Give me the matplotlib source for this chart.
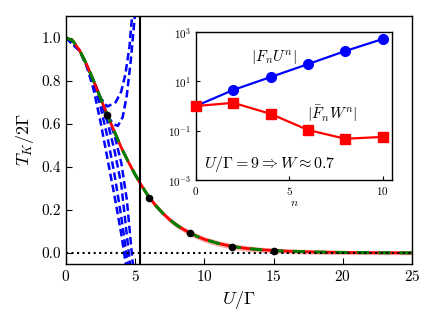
import numpy as np
import matplotlib
matplotlib.use("Agg")
import matplotlib.pyplot as plt

plt.rcParams['mathtext.fontset'] = 'cm'
plt.rcParams['font.family'] = 'serif'
plt.rcParams['font.serif'] = ['cmr10', 'DejaVu Serif']
plt.rcParams['axes.formatter.use_mathtext'] = True

# main curve T_K/2Gamma vs U/Gamma
U_main = [0, 0.5, 1, 1.5, 2, 2.5, 3, 3.5, 4, 4.5, 5, 5.5, 6, 6.5, 7, 7.5, 8, 8.5,
          9, 9.5, 10, 11, 12, 13, 14, 15, 16, 17, 18, 20, 22, 25]
T_main = [1.0, 0.985, 0.94, 0.875, 0.80, 0.72, 0.64, 0.565, 0.49, 0.425, 0.365,
          0.31, 0.26, 0.22, 0.185, 0.155, 0.13, 0.11, 0.092, 0.077, 0.064, 0.045,
          0.031, 0.022, 0.016, 0.012, 0.009, 0.007, 0.005, 0.003, 0.002, 0.001]
T_err = [0.0, 0.0, 0.001, 0.002, 0.003, 0.004, 0.005, 0.006, 0.007, 0.008, 0.009,
         0.010, 0.011, 0.012, 0.012, 0.013, 0.013, 0.013, 0.013, 0.013, 0.013, 0.013,
         0.013, 0.013, 0.012, 0.012, 0.011, 0.011, 0.010, 0.010, 0.009, 0.009]

# dots
U_dots = [3, 6, 9, 12, 15]
T_dots = [0.64, 0.258, 0.092, 0.030, 0.012]

# truncated series (blue dashed)
series_U = [
    [0, 1, 1.5, 2, 2.5, 3, 3.5, 4, 4.35],
    [0, 1, 1.5, 2, 2.5, 3, 3.5, 4, 4.5],
    [0, 1, 2, 2.5, 3, 3.5, 4, 4.65],
    [0, 1, 2, 2.5, 3, 3.5, 4, 4.4, 4.85],
    [0, 1, 2, 2.5, 3, 3.3, 3.6, 4, 4.3, 4.6, 4.85],
    [0, 1, 2, 2.5, 3, 3.4, 3.75, 4.1, 4.4, 4.7, 5.05],
]
series_T = [
    [1.0, 0.94, 0.87, 0.76, 0.61, 0.44, 0.27, 0.09, -0.06],
    [1.0, 0.94, 0.875, 0.79, 0.68, 0.54, 0.37, 0.17, -0.06],
    [1.0, 0.94, 0.80, 0.71, 0.61, 0.48, 0.32, -0.06],
    [1.0, 0.94, 0.80, 0.72, 0.64, 0.55, 0.42, 0.25, -0.06],
    [1.0, 0.94, 0.80, 0.72, 0.68, 0.69, 0.70, 0.75, 0.83, 0.96, 1.15],
    [1.0, 0.94, 0.80, 0.72, 0.64, 0.60, 0.59, 0.63, 0.73, 0.90, 1.15],
]

# inset data
n_vals = [0, 2, 4, 6, 8, 10]
FU = [1.0, 4.5, 15, 50, 170, 520]
FW = [1.0, 1.35, 0.48, 0.107, 0.047, 0.056]

fig = plt.figure(figsize=(4.36, 3.27), dpi=100)
ax = fig.add_axes([0.151, 0.193, 0.794, 0.758])

for su, st in zip(series_U, series_T):
    ax.plot(su, st, color='blue', ls='--', lw=1.8, dashes=(3, 1.5))

lo = np.array(T_main) - np.array(T_err)
hi = np.array(T_main) + np.array(T_err)
ax.fill_between(U_main, lo, hi, color='red', alpha=0.3, lw=0)
ax.plot(U_main, T_main, color='red', lw=2.0)
ax.plot(U_main, T_main, color='green', lw=2.2, ls='--', dashes=(4, 3))
ax.plot(U_dots, T_dots, 'o', color='black', ms=4.5, zorder=5)

ax.axvline(5.35, color='black', lw=1.5)
ax.axhline(0.0, color='black', lw=1.5, ls=':')

ax.set_xlim(0, 25)
ax.set_ylim(-0.05, 1.1)
ax.set_xticks([0, 5, 10, 15, 20, 25])
ax.set_yticks([0.0, 0.2, 0.4, 0.6, 0.8, 1.0])
ax.set_yticklabels(['0.0', '0.2', '0.4', '0.6', '0.8', '1.0'])
ax.tick_params(direction='in', labelsize=11, length=4)
ax.set_xlabel(r'$U/\Gamma$', fontsize=13)
ax.set_ylabel(r'$T_K/2\Gamma$', fontsize=13)
for s in ax.spines.values():
    s.set_linewidth(1.0)

# inset
ins = fig.add_axes([0.4495, 0.4495, 0.4495, 0.4525])
ins.plot(n_vals, FU, '-o', color='blue', lw=1.6, ms=7, clip_on=False, zorder=3)
ins.plot(n_vals, FW, '-s', color='red', lw=1.6, ms=7, clip_on=False, zorder=3)
ins.set_yscale('log')
ins.set_xlim(0, 10.5)
ins.set_ylim(1e-3, 1e3)
ins.set_yticks([1e-3, 1e-1, 1e1, 1e3])
ins.minorticks_off()
ins.set_xticks([0, 5, 10])
ins.tick_params(direction='in', labelsize=8, length=3)
ins.set_xlabel(r'$n$', fontsize=8.5, labelpad=1)
for s in ins.spines.values():
    s.set_linewidth(1.0)
ins.text(2.95, 100, r'$|F_nU^n|$', fontsize=11, va='center', ha='left')
ins.text(7.3, 0.48, r'$|\bar{F}_nW^n|$', fontsize=11, va='center', ha='center')
ins.text(0.45, 0.0045, r'$U/\Gamma=9 \Rightarrow W\approx 0.7$', fontsize=11.5,
         va='center', ha='left')

fig.savefig('out.png', dpi=100)
